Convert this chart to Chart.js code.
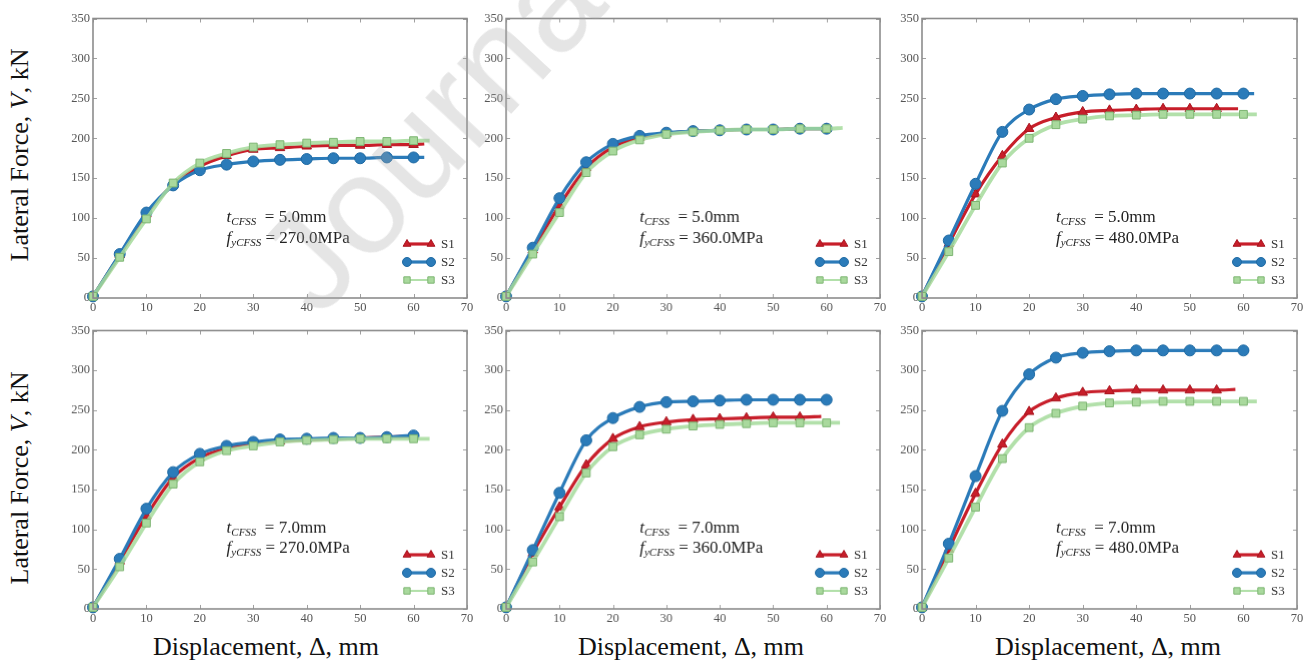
<!DOCTYPE html>
<html><head><meta charset="utf-8">
<script src="https://cdn.jsdelivr.net/npm/chart.js@4.4.0/dist/chart.umd.min.js"></script>
<style>
html,body{margin:0;padding:0;background:#fff;}
body{width:1315px;height:663px;position:relative;overflow:hidden;font-family:"Liberation Serif","Times New Roman",serif;}
.pc{position:absolute;}
.ytitle{position:absolute;font-size:26px;color:#111;transform:translate(-50%,-50%) rotate(-90deg);white-space:nowrap;}
.xtitle{position:absolute;font-size:26px;color:#111;transform:translate(-50%,-50%);white-space:nowrap;}
#wm{position:absolute;left:335px;top:195px;height:140px;line-height:140px;font-family:"Liberation Sans",Arial,sans-serif;font-size:140px;color:rgba(170,170,170,0.3);transform-origin:0 100%;transform:rotate(-47deg);white-space:nowrap;pointer-events:none;z-index:10;}
</style></head><body>
<script>
// ---------- DATA ----------
const DISP = [0,5,10,15,20,25,30,35,40,45,50,55,60];
const SERIES = ["S1","S2","S3"];
const THICK = ["5.0","5.0","5.0","7.0","7.0","7.0"];
const FY = ["270.0","360.0","480.0","270.0","360.0","480.0"];
const X_TICKS = [0,10,20,30,40,50,60,70];
const Y_TICKS = [0,50,100,150,200,250,300,350];

const P1_S1 = [2,54,105,142,165,178,186,188,190,191,191,192,192];
const P1_S2 = [2,55,107,141,160,167,171,173,174,175,175,176,176];
const P1_S3 = [2,51,99,144,169,181,189,192,194,195,196,196,197];
const P1_END = [[62,193],[62,176],[63,197]];

const P2_S1 = [2,60,116,163,189,201,206,209,210,211,211,212,212];
const P2_S2 = [2,63,125,170,193,203,207,209,210,211,211,212,212];
const P2_S3 = [2,55,107,157,184,198,205,208,210,211,211,212,212];
const P2_END = [[61,212],[61,212],[63,213]];

const P3_S1 = [2,68,130,178,212,226,233,235,236,237,237,237];
const P3_S2 = [2,72,143,208,236,249,253,255,256,256,256,256,256];
const P3_S3 = [2,58,116,169,200,217,224,228,229,230,230,230,230];
const P3_END = [[59,237],[62,256],[62.5,230]];

const P4_S1 = [2,60,117,165,190,202,209,211,213,214,215,216,217];
const P4_S2 = [2,63,126,172,195,205,210,213,214,215,215,216,218];
const P4_S3 = [2,53,108,157,185,199,205,210,212,213,214,214,214];
const P4_END = [[61,217],[61,218],[63,214]];

const P5_S1 = [2,70,128,181,214,229,235,238,239,240,241,241];
const P5_S2 = [2,74,146,212,240,254,260,261,262,263,263,263,263];
const P5_S3 = [2,59,116,171,204,219,226,230,232,233,234,234,234];
const P5_END = [[59,242],[61,263],[62.5,234]];

const P6_S1 = [2,75,145,207,248,265,272,274,275,275,275,275];
const P6_S2 = [2,82,167,249,295,316,322,324,325,325,325,325,325];
const P6_S3 = [2,64,128,189,228,246,255,259,260,261,261,261,261];
const P6_END = [[58.5,276],[61,325],[62.5,261]];

const PANELS = [
  [P1_S1,P1_S2,P1_S3,P1_END],[P2_S1,P2_S2,P2_S3,P2_END],[P3_S1,P3_S2,P3_S3,P3_END],
  [P4_S1,P4_S2,P4_S3,P4_END],[P5_S1,P5_S2,P5_S3,P5_END],[P6_S1,P6_S2,P6_S3,P6_END]
];

// ---------- LAYOUT ----------
const COLS = [[93.3,467.3],[506,879.5],[921.7,1296.7]];
const ROWS = [[16,298.3],[328.3,609.3]];
const PADL = 45, PADT = 8, PADR = 10, PADB = 20;
const SERIF = '"Liberation Serif","Times New Roman",serif';

const STYLES = [
  {color:'#c81e2a', fill:'#c81e2a', border:'#a8141e', style:'triangle', r:5.5, w:3.2, order:3},
  {color:'#2b7bb9', fill:'#2b7bb9', border:'#1f6aa3', style:'circle', r:5.5, w:3.2, order:2},
  {color:'rgba(165,218,155,0.85)', fill:'#a9d99d', border:'#7db572', style:'rect', r:5.5, w:3.8, order:1}
];

const framePlugin = {
  id:'frame',
  afterDatasetsDraw(chart){
    const {ctx, chartArea:a, scales:{x,y}} = chart;
    ctx.save();
    ctx.strokeStyle = '#a0a0a0'; ctx.lineWidth = 1;
    ctx.beginPath();
    X_TICKS.forEach(v=>{ const px = Math.round(x.getPixelForValue(v))+0.5;
      ctx.moveTo(px,a.bottom); ctx.lineTo(px,a.bottom-4);
      ctx.moveTo(px,a.top); ctx.lineTo(px,a.top+4); });
    Y_TICKS.forEach(v=>{ const py = Math.round(y.getPixelForValue(v))+0.5;
      ctx.moveTo(a.left,py); ctx.lineTo(a.left+4,py);
      ctx.moveTo(a.right,py); ctx.lineTo(a.right-4,py); });
    ctx.stroke();
    ctx.strokeStyle = '#8c8c8c'; ctx.lineWidth = 1.6;
    ctx.strokeRect(a.left, a.top, a.right-a.left, a.bottom-a.top);

    const idx = chart.options.plugins.frame.idx;
    const row = idx < 3 ? 0 : 1;
    const tx = x.getPixelForValue(25);
    const y1 = y.getPixelForValue(row===0?103:104);
    const y2 = y.getPixelForValue(row===0?77:78);
    ctx.fillStyle = '#222'; ctx.textBaseline = 'alphabetic'; ctx.textAlign = 'left';
    function param(px, py, sym, sub, val){
      ctx.font = 'italic 17px ' + SERIF; ctx.fillText(sym, px, py); let w = ctx.measureText(sym).width;
      ctx.font = 'italic 11px ' + SERIF; ctx.fillText(sub, px+w, py+3); w += ctx.measureText(sub).width;
      ctx.font = '17px ' + SERIF; ctx.fillText(val, px+w, py);
    }
    param(tx, y1+6, 't', 'CFSS', '  = ' + THICK[idx] + 'mm');
    param(tx, y2+6, 'f', 'yCFSS', ' = ' + FY[idx] + 'MPa');

    const rows = [a.bottom-54, a.bottom-36, a.bottom-18];
    chart.data.datasets.forEach((ds,i)=>{
      const ly = rows[i];
      const x0 = a.right-60, x1 = a.right-36;
      ctx.strokeStyle = ds.borderColor; ctx.lineWidth = i===2 ? 2 : ds.borderWidth;
      ctx.beginPath(); ctx.moveTo(x0,ly); ctx.lineTo(x1,ly); ctx.stroke();
      [x0,x1].forEach(px=>{
        ctx.fillStyle = ds.pointBackgroundColor; ctx.strokeStyle = ds.pointBorderColor; ctx.lineWidth = 1;
        Chart.helpers.drawPoint(ctx, {pointStyle: ds.pointStyle, radius: 4.5, borderWidth: 1, rotation:0}, px, ly);
      });
      ctx.fillStyle = '#333'; ctx.font = '13px ' + SERIF; ctx.textBaseline = 'middle';
      ctx.fillText(ds.label, a.right-26, ly+1);
      ctx.textBaseline = 'alphabetic';
    });
    ctx.restore();
  }
};

function build(){
PANELS.forEach((p, idx)=>{
  const col = COLS[idx%3], row = ROWS[Math.floor(idx/3)];
  const w = (col[1]-col[0]) + PADL + PADR, h = (row[1]-row[0]) + PADT + PADB;
  const cv = document.createElement('canvas');
  cv.className = 'pc';
  cv.style.left = (col[0]-PADL) + 'px'; cv.style.top = (row[0]-PADT) + 'px';
  cv.style.width = w + 'px'; cv.style.height = h + 'px';
  cv.width = w; cv.height = h;
  document.body.appendChild(cv);
  const end = p[3];
  const datasets = [0,1,2].map(s=>{
    const vals = p[s], st = STYLES[s];
    const data = vals.map((v,i)=>({x:DISP[i], y:v})).concat([{x:end[s][0], y:end[s][1]}]);
    return {
      label: SERIES[s], data,
      borderColor: st.color, borderWidth: st.w,
      pointStyle: st.style,
      pointRadius: ctx => ctx.dataIndex < vals.length ? st.r : 0,
      pointBackgroundColor: st.fill, pointBorderColor: st.border, pointBorderWidth: 1,
      cubicInterpolationMode: 'monotone', order: st.order, clip: 6
    };
  });
  new Chart(cv, {
    type:'line',
    data:{datasets},
    options:{
      responsive:false, animation:false, devicePixelRatio:1,
      layout:{padding:{left:0, top:PADT, right:PADR, bottom:0}},
      plugins:{legend:{display:false}, tooltip:{enabled:false}, frame:{idx}},
      events:[],
      scales:{
        x:{type:'linear', min:0, max:70,
           afterFit(s){ s.height = PADB; },
           afterBuildTicks(s){ s.ticks = X_TICKS.map(v=>({value:v})); },
           grid:{display:false, drawTicks:false}, border:{display:false},
           ticks:{padding:2, color:'#555', font:{family:SERIF, size:12.5}, maxRotation:0, autoSkip:false}},
        y:{type:'linear', min:0, max:350,
           afterFit(s){ s.width = PADL; },
           afterBuildTicks(s){ s.ticks = Y_TICKS.map(v=>({value:v})); },
           grid:{display:false, drawTicks:false}, border:{display:false},
           ticks:{padding:3, color:'#555', font:{family:SERIF, size:12.5}, autoSkip:false}}
      }
    },
    plugins:[framePlugin]
  });
});
}

// axis titles
[[20,155],[20,478]].forEach(([x,y])=>{
  const d = document.createElement('div'); d.className='ytitle';
  d.style.left = x+'px'; d.style.top = y+'px';
  d.innerHTML = 'Lateral Force, <i>V</i>, kN';
  document.body.appendChild(d);
});
[[266,647],[691,647],[1108,647]].forEach(([x,y])=>{
  const d = document.createElement('div'); d.className='xtitle';
  d.style.left = x+'px'; d.style.top = y+'px';
  d.textContent = 'Displacement, \u0394, mm';
  document.body.appendChild(d);
});
const wm = document.createElement('div'); wm.id='wm'; wm.textContent='Journal';
document.body.appendChild(wm);

Promise.all([
  document.fonts.load('12px "Liberation Serif"'),
  document.fonts.load('italic 17px "Liberation Serif"'),
  document.fonts.load('17px "Liberation Serif"')
]).then(build, build);
</script>
</body></html>
